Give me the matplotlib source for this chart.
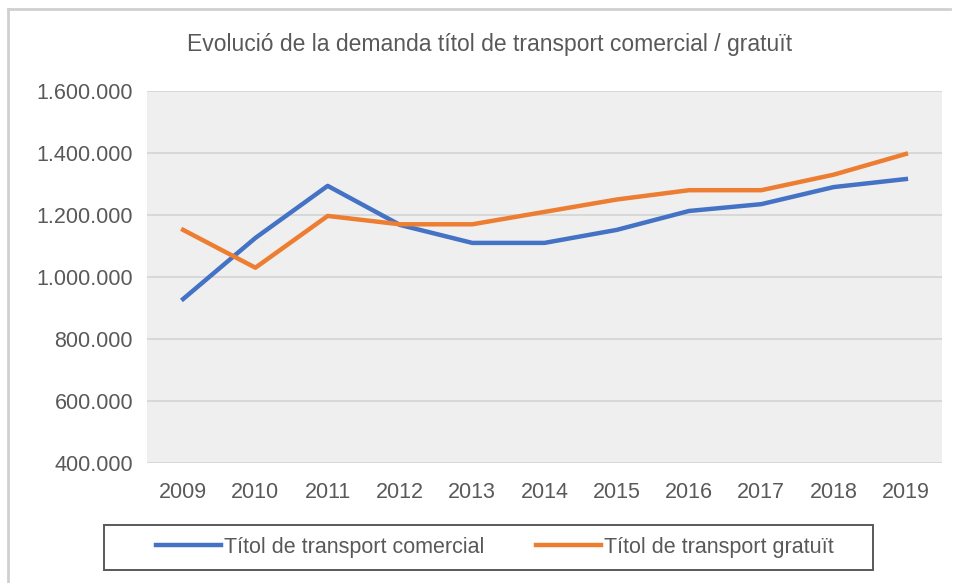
import matplotlib
matplotlib.use("Agg")
import matplotlib.pyplot as plt
from matplotlib.patches import Rectangle
from matplotlib.lines import Line2D
from matplotlib.ticker import FuncFormatter

years = [2009, 2010, 2011, 2012, 2013, 2014, 2015, 2016, 2017, 2018, 2019]
comercial = [929000, 1126000, 1294000, 1168000, 1110000, 1110000, 1152000,
             1213000, 1235000, 1290000, 1316000]
gratuit = [1152000, 1030000, 1197000, 1170000, 1170000, 1210000, 1250000,
           1280000, 1280000, 1330000, 1397000]
yticks = [400000, 600000, 800000, 1000000, 1200000, 1400000, 1600000]

TITLE = "Evolució de la demanda títol de transport comercial / gratuït"
LABELS = ["Títol de transport comercial", "Títol de transport gratuït"]
COLORS = {"comercial": "#4472C4", "gratuit": "#ED7D31"}
TEXT = "#595959"

plt.rcParams["font.family"] = ["Liberation Sans", "DejaVu Sans"]

W, H = 958, 583
fig = plt.figure(figsize=(W / 100, H / 100), dpi=100)
ax = fig.add_axes([147 / W, 1 - 463 / H, (942 - 147) / W, (463 - 91) / H])
ax.set_facecolor("#efefef")

x = list(range(len(years)))
ax.plot(x, comercial, color=COLORS["comercial"], lw=3.2, solid_joinstyle="round")
ax.plot(x, gratuit, color=COLORS["gratuit"], lw=3.2, solid_joinstyle="round")

ax.set_xlim(-0.5, len(years) - 0.5)
ax.set_ylim(400000, 1600000)
ax.set_yticks(yticks)
ax.yaxis.set_major_formatter(FuncFormatter(lambda v, p: f"{int(v):,}".replace(",", ".")))
ax.set_xticks(x)
ax.set_xticklabels([str(y) for y in years])
ax.grid(axis="y", color="#d4d4d4", lw=1.2)
ax.set_axisbelow(True)
for s in ax.spines.values():
    s.set_visible(False)
ax.tick_params(length=0, labelsize=15.5, colors=TEXT)
ax.tick_params(axis="x", pad=14)
ax.tick_params(axis="y", pad=10)

fig.text(490 / W, 1 - 45 / H, TITLE, ha="center", va="center", fontsize=16.5, color=TEXT)

# outer frame (left and top edges)
fig.add_artist(Line2D([8 / W, 8 / W], [0, 1 - 9 / H], transform=fig.transFigure,
                      color="#d0d0d0", lw=2))
fig.add_artist(Line2D([8 / W, 950 / W], [1 - 9 / H, 1 - 9 / H], transform=fig.transFigure,
                      color="#d0d0d0", lw=2))

# legend box
fig.add_artist(Rectangle((104 / W, 1 - 570 / H), (873 - 104) / W, (570 - 525) / H,
                         transform=fig.transFigure, facecolor="white",
                         edgecolor="#595959", lw=1.4))
handles = [Line2D([], [], color=COLORS["comercial"], lw=3.2),
           Line2D([], [], color=COLORS["gratuit"], lw=3.2)]
leg = fig.legend(handles, LABELS, loc="center", bbox_to_anchor=(495 / W, 1 - 547 / H),
                 ncol=2, frameon=False, fontsize=15.5, handlelength=3.0,
                 handletextpad=0.15, columnspacing=2.4)
for t in leg.get_texts():
    t.set_color(TEXT)

fig.savefig("out.png", dpi=100)
